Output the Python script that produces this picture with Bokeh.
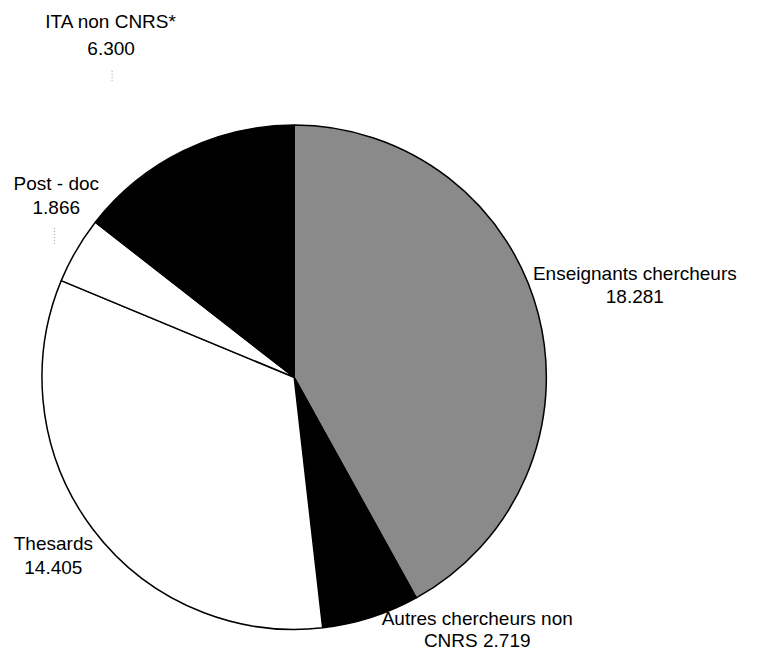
import math
from bokeh.plotting import figure
from bokeh.models import ColumnDataSource, Range1d
from bokeh.core.properties import value
from bokeh.embed import file_html
from bokeh.resources import INLINE

# ---- data ----
categories = ["Enseignants chercheurs", "Autres chercheurs non CNRS", "Thesards", "Post - doc", "ITA non CNRS*"]
values = [18.281, 2.719, 14.405, 1.866, 6.300]
value_labels = ["18.281", "2.719", "14.405", "1.866", "6.300"]

# ---- styles / layout ----
colors = ["#8a8a8a", "#000000", "#ffffff", "#ffffff", "#000000"]
label_lines = [
    ["Enseignants chercheurs", value_labels[0]],
    ["Autres chercheurs non", "CNRS " + value_labels[1]],
    ["Thesards", value_labels[2]],
    ["Post - doc", value_labels[3]],
    ["ITA non CNRS*", value_labels[4]],
]
# label anchors in reference-picture pixels (758 x 670)
label_pos = [(648, 280), (487, 633), (54, 556), (57, 187), (113, 22)]
label_gap = [23, 23, 25, 25, 27]

W, H = 742, 654
SX, SY = W / 758.0, H / 670.0
cx, cy, R = 300 * SX, -386 * SY, 258 * (SX + SY) / 2

total = sum(values)
starts, ends = [], []
acc = 0.0
for v in values:
    a0 = math.pi / 2 - 2 * math.pi * acc / total
    acc += v
    a1 = math.pi / 2 - 2 * math.pi * acc / total
    starts.append(a0)
    ends.append(a1)

src = ColumnDataSource(dict(cat=categories, val=values, start=starts, end=ends, color=colors))

p = figure(width=W, height=H, output_backend="svg", toolbar_location=None,
           x_range=Range1d(0, W), y_range=Range1d(-H, 0),
           min_border=0, background_fill_color="white")
p.axis.visible = False
p.grid.visible = False
p.outline_line_color = None

p.wedge(x=cx, y=cy, radius=R, start_angle="start", end_angle="end", direction="clock",
        fill_color="color", line_color="black", line_width=1.5, source=src)

# label texts
tx, ty, tt = [], [], []
for lines, (x, y), g in zip(label_lines, label_pos, label_gap):
    for i, s in enumerate(lines):
        tx.append(x * SX)
        ty.append(-(y + i * g) * SY)
        tt.append(s)
p.text(x=tx, y=ty, text=tt, text_font=value("Liberation Sans"), text_font_size="19px",
       text_align="center", text_baseline="middle", text_color="black")

# faint leader marks
p.segment(x0=[114 * SX, 55 * SX], y0=[-72 * SY, -233 * SY],
          x1=[114 * SX, 55 * SX], y1=[-84 * SY, -250 * SY],
          line_color="#999999", line_width=1, line_dash="1 2")

open("out.html", "w").write(file_html(p, INLINE))
